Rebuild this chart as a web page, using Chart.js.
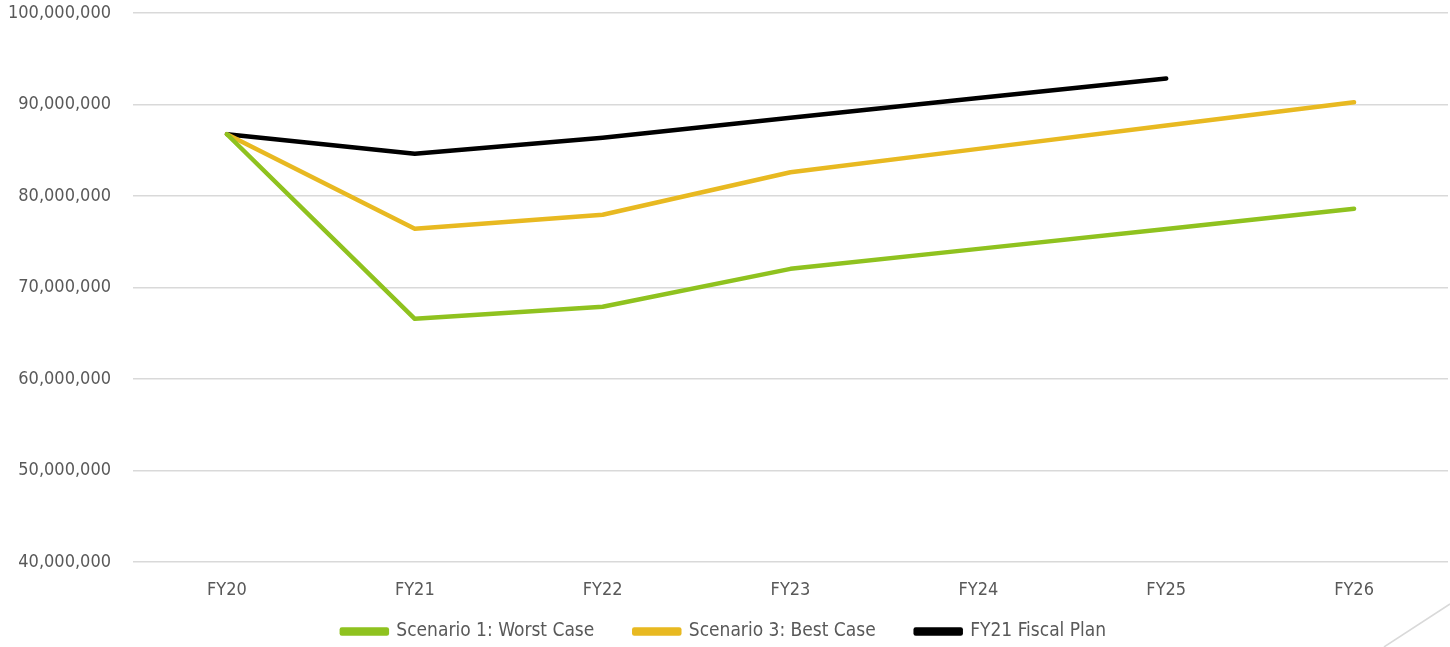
<!DOCTYPE html>
<html>
<head>
<meta charset="utf-8">
<script src="https://cdn.jsdelivr.net/npm/chart.js@4"></script>
<style>
  html, body { margin: 0; padding: 0; background: #fff; }
  #wrap { width: 1450px; height: 647px; position: relative; }
</style>
</head>
<body>
<div id="wrap"><canvas id="chart"></canvas></div>
<script>
var categories = ["FY20", "FY21", "FY22", "FY23", "FY24", "FY25", "FY26"];
var worstCase = [86750000, 66580000, 67890000, 72040000, 74220000, 76400000, 78600000];
var bestCase = [86750000, 76420000, 77950000, 82600000, 85150000, 87700000, 90250000];
var fiscalPlan = [86750000, 84610000, 86360000, 88550000, 90700000, 92840000, null];
var yTicks = [40000000, 50000000, 60000000, 70000000, 80000000, 90000000, 100000000];

var textColor = "#595959";
var fontFamily = "'Liberation Sans Narrow', 'DejaVu Sans Condensed', 'Roboto Condensed', sans-serif";

// thin grey stroke in the bottom right corner
var cornerLine = {
    id: "cornerLine",
    afterDraw: function(chart) {
        var ctx = chart.ctx;
        ctx.save();
        ctx.strokeStyle = "#d9d9d9";
        ctx.lineWidth = 1.5;
        ctx.beginPath();
        ctx.moveTo(1384, 647);
        ctx.lineTo(1450, 604);
        ctx.stroke();
        ctx.restore();
    }
};

// legend padding is also the gap between items; keep the legend box short
// and draw its row a bit higher
var legendHeight = {
    id: "legendHeight",
    beforeLayout: function(chart) {
        var lg = chart.legend;
        if (lg && !lg._fixed) {
            var fit = lg.fit;
            var draw = lg.draw;
            lg.fit = function() {
                fit.call(this);
                this.height = 34;
            };
            lg.draw = function() {
                this.top -= 31;
                draw.call(this);
                this.top += 31;
            };
            lg._fixed = true;
        }
    }
};

function lineSet(label, data, color) {
    return {
        label: label,
        data: data,
        borderColor: color,
        backgroundColor: color,
        borderWidth: 4.5,
        pointRadius: 0,
        pointHoverRadius: 0,
        tension: 0,
        borderCapStyle: "round",
        borderJoinStyle: "round",
        spanGaps: false
    };
}

var ctx = document.getElementById("chart").getContext("2d");
var chart = new Chart(ctx, {
    type: "line",
    data: {
        labels: categories,
        datasets: [
            lineSet("Scenario 1: Worst Case", worstCase, "#8fc21f"),
            lineSet("Scenario 3: Best Case", bestCase, "#e8b921"),
            lineSet("FY21 Fiscal Plan", fiscalPlan, "#000000")
        ]
    },
    options: {
        responsive: true,
        maintainAspectRatio: false,
        animation: false,
        layout: {
            padding: { top: 13, right: 2, left: 0, bottom: 0 }
        },
        plugins: {
            legend: {
                position: "bottom",
                labels: {
                    color: textColor,
                    font: { family: fontFamily, size: 19 },
                    boxWidth: 45,
                    boxHeight: 4,
                    padding: 40
                }
            },
            tooltip: { enabled: false }
        },
        scales: {
            x: {
                offset: true,
                afterFit: function(scale) {
                    scale.height = 51;
                    scale.paddingLeft = 0;
                    scale.paddingRight = 0;
                },
                grid: { display: false },
                border: { display: false },
                ticks: {
                    color: textColor,
                    font: { family: fontFamily, size: 18 },
                    padding: 10
                }
            },
            y: {
                min: 40000000,
                max: 100000000,
                afterFit: function(scale) {
                    scale.width = 133;
                    scale.paddingTop = 0;
                    scale.paddingBottom = 0;
                },
                afterBuildTicks: function(scale) {
                    scale.ticks = yTicks.map(function(v) { return { value: v }; });
                },
                grid: {
                    color: "#d9d9d9",
                    lineWidth: 1.5,
                    drawTicks: false
                },
                border: { display: false },
                ticks: {
                    color: textColor,
                    font: { family: fontFamily, size: 18 },
                    padding: 22,
                    callback: function(value) {
                        return value.toLocaleString("en-US");
                    }
                }
            }
        }
    },
    plugins: [cornerLine, legendHeight]
});
</script>
</body>
</html>
